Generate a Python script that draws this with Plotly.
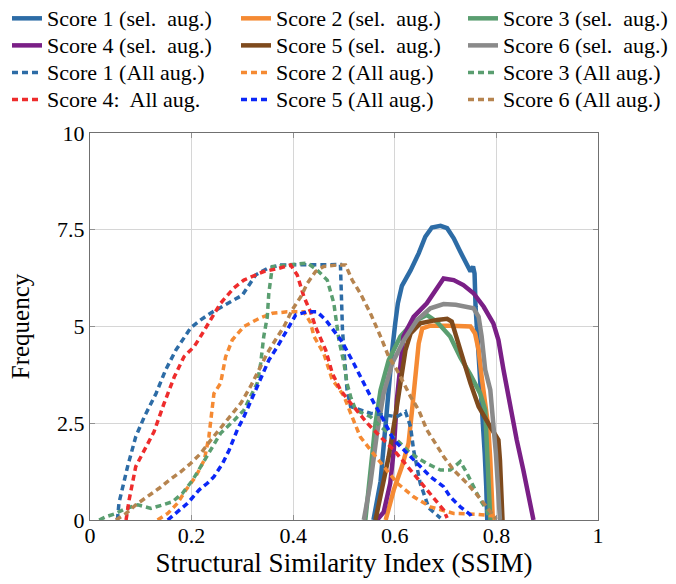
import plotly.graph_objects as go

# ---------------- data ----------------
s1_sel_x = [0.558, 0.566, 0.572, 0.578, 0.583, 0.589, 0.595, 0.601, 0.606, 0.614, 0.631, 0.647, 0.66, 0.673, 0.69, 0.703, 0.716, 0.729, 0.742, 0.749, 0.754, 0.757, 0.759, 0.765, 0.771, 0.777, 0.78, 0.782]
s1_sel_y = [0.0, 0.5, 1.0, 1.9, 2.7, 3.6, 4.4, 5.1, 5.6, 6.05, 6.45, 6.89, 7.32, 7.56, 7.6, 7.54, 7.28, 6.93, 6.59, 6.42, 6.55, 6.37, 5.51, 4.31, 3.02, 1.72, 0.86, 0.0]

s2_sel_x = [0.582, 0.598, 0.614, 0.627, 0.634, 0.64, 0.647, 0.654, 0.67, 0.71, 0.749, 0.758, 0.765, 0.771, 0.778, 0.784, 0.788, 0.791, 0.793]
s2_sel_y = [0.0, 0.78, 1.38, 1.98, 2.84, 3.7, 4.56, 4.95, 5.02, 5.02, 5.0, 4.82, 4.39, 3.7, 3.02, 2.41, 1.55, 0.69, 0.0]

s3_sel_x = [0.542, 0.547, 0.552, 0.562, 0.572, 0.588, 0.611, 0.637, 0.663, 0.683, 0.709, 0.729, 0.749, 0.768, 0.778, 0.781, 0.784, 0.788]
s3_sel_y = [0.0, 0.6, 1.38, 2.5, 3.36, 4.13, 4.74, 5.12, 5.3, 5.12, 4.74, 4.2, 3.75, 3.27, 2.84, 1.98, 0.86, 0.0]

s4_sel_x = [0.565, 0.578, 0.591, 0.598, 0.604, 0.611, 0.617, 0.627, 0.637, 0.663, 0.676, 0.686, 0.696, 0.716, 0.735, 0.755, 0.775, 0.794, 0.804, 0.814, 0.827, 0.84, 0.853, 0.866, 0.873]
s4_sel_y = [0.0, 0.2, 0.95, 1.81, 3.1, 4.13, 4.74, 5.0, 5.25, 5.6, 5.86, 6.03, 6.24, 6.2, 6.07, 5.86, 5.51, 5.08, 4.65, 3.88, 2.93, 2.07, 1.29, 0.43, 0.0]

s5_sel_x = [0.562, 0.574, 0.588, 0.601, 0.611, 0.621, 0.631, 0.65, 0.683, 0.703, 0.712, 0.719, 0.735, 0.749, 0.765, 0.788, 0.804, 0.807, 0.81, 0.812]
s5_sel_y = [0.0, 0.78, 1.64, 2.67, 3.53, 4.39, 4.82, 5.08, 5.17, 5.2, 5.13, 4.85, 4.13, 3.53, 2.93, 2.41, 2.07, 1.55, 0.26, 0.0]

s6_sel_x = [0.539, 0.552, 0.565, 0.578, 0.595, 0.618, 0.644, 0.67, 0.696, 0.72, 0.755, 0.765, 0.771, 0.778, 0.788, 0.794, 0.799, 0.803, 0.807]
s6_sel_y = [0.0, 0.95, 2.24, 3.27, 4.05, 4.65, 5.17, 5.47, 5.58, 5.56, 5.47, 5.25, 4.74, 3.88, 3.36, 2.58, 1.72, 0.86, 0.0]

s1_all_x = [0.054, 0.057, 0.074, 0.090, 0.107, 0.130, 0.149, 0.169, 0.198, 0.218, 0.238, 0.277, 0.30, 0.326, 0.349, 0.375, 0.43, 0.493, 0.497, 0.506, 0.513, 0.552, 0.604, 0.621, 0.631, 0.637, 0.65, 0.667, 0.69]
s1_all_y = [0.0, 0.44, 1.38, 2.15, 2.67, 3.27, 3.88, 4.39, 4.96, 5.17, 5.35, 5.64, 5.81, 6.33, 6.5, 6.59, 6.6, 6.6, 4.9, 3.36, 2.93, 2.76, 2.67, 2.80, 2.41, 1.81, 0.95, 0.31, 0.05]

s2_all_x = [0.133, 0.153, 0.172, 0.189, 0.208, 0.225, 0.234, 0.240, 0.244, 0.257, 0.267, 0.280, 0.303, 0.333, 0.359, 0.388, 0.421, 0.434, 0.441, 0.46, 0.477, 0.487, 0.5, 0.513, 0.532, 0.552, 0.578, 0.605, 0.637, 0.67, 0.716, 0.76, 0.80]
s2_all_y = [0.0, 0.17, 0.43, 0.78, 1.12, 1.55, 2.15, 2.84, 3.27, 3.53, 4.22, 4.65, 5.0, 5.21, 5.34, 5.38, 5.38, 5.1, 4.74, 4.31, 3.62, 3.45, 3.2, 2.76, 2.15, 1.81, 1.38, 0.95, 0.6, 0.34, 0.17, 0.15, 0.1]

s3_all_x = [0.018, 0.031, 0.051, 0.071, 0.094, 0.12, 0.143, 0.162, 0.182, 0.202, 0.218, 0.238, 0.257, 0.284, 0.303, 0.316, 0.329, 0.336, 0.342, 0.349, 0.352, 0.359, 0.40, 0.428, 0.447, 0.467, 0.48, 0.487, 0.49, 0.5, 0.506, 0.513, 0.523, 0.552, 0.572, 0.604, 0.631, 0.663, 0.69, 0.709, 0.729, 0.742, 0.755, 0.768, 0.781, 0.785]
s3_all_y = [0.0, 0.08, 0.17, 0.30, 0.39, 0.3, 0.39, 0.47, 0.69, 1.03, 1.38, 1.81, 2.24, 2.58, 2.84, 3.19, 3.53, 4.05, 4.74, 5.25, 5.86, 6.55, 6.6, 6.64, 6.46, 6.2, 5.6, 5.0, 4.65, 4.05, 3.53, 3.19, 2.84, 2.67, 2.41, 2.07, 1.72, 1.46, 1.29, 1.29, 1.51, 1.21, 0.86, 0.52, 0.26, 0.05]

s4_all_x = [0.071, 0.077, 0.090, 0.107, 0.126, 0.146, 0.166, 0.185, 0.205, 0.218, 0.238, 0.257, 0.283, 0.303, 0.342, 0.371, 0.395, 0.408, 0.421, 0.434, 0.444, 0.464, 0.477, 0.493, 0.513, 0.546, 0.565, 0.598, 0.631, 0.663, 0.696, 0.703]
s4_all_y = [0.0, 0.52, 1.38, 1.81, 2.28, 3.02, 3.70, 4.22, 4.48, 4.75, 5.17, 5.6, 5.99, 6.2, 6.42, 6.5, 6.59, 6.33, 5.77, 5.38, 4.99, 4.39, 3.79, 3.36, 3.02, 2.5, 2.24, 1.81, 1.29, 0.78, 0.26, 0.05]

s5_all_x = [0.153, 0.169, 0.192, 0.215, 0.231, 0.244, 0.261, 0.274, 0.29, 0.303, 0.323, 0.336, 0.352, 0.369, 0.388, 0.405, 0.428, 0.447, 0.464, 0.48, 0.496, 0.519, 0.539, 0.559, 0.578, 0.598, 0.618, 0.637, 0.67, 0.696, 0.709, 0.729, 0.749, 0.752]
s5_all_y = [0.0, 0.17, 0.43, 0.78, 0.95, 1.12, 1.46, 1.81, 2.33, 2.67, 3.27, 3.70, 4.13, 4.48, 4.91, 5.3, 5.38, 5.38, 5.17, 4.89, 4.61, 4.05, 3.53, 3.02, 2.58, 2.07, 1.81, 1.55, 1.12, 0.86, 0.6, 0.34, 0.13, 0.05]

s6_all_x = [0.051, 0.071, 0.090, 0.113, 0.136, 0.156, 0.179, 0.198, 0.218, 0.238, 0.264, 0.28, 0.297, 0.316, 0.333, 0.349, 0.365, 0.382, 0.398, 0.415, 0.428, 0.444, 0.46, 0.487, 0.503, 0.516, 0.532, 0.552, 0.572, 0.588, 0.604, 0.618, 0.631, 0.647, 0.663, 0.68, 0.696, 0.716, 0.742, 0.762, 0.781, 0.795, 0.8]
s6_all_y = [0.0, 0.17, 0.39, 0.60, 0.82, 1.03, 1.25, 1.46, 1.72, 2.07, 2.5, 2.76, 3.02, 3.45, 3.88, 4.31, 4.65, 5.0, 5.43, 5.77, 6.12, 6.42, 6.55, 6.59, 6.59, 6.2, 5.86, 5.34, 4.74, 4.22, 3.88, 3.53, 3.19, 2.84, 2.33, 1.98, 1.64, 1.29, 0.95, 0.65, 0.34, 0.13, 0.02]

names = [
    "Score 1 (sel.\u00a0 aug.)", "Score 2 (sel.\u00a0 aug.)", "Score 3 (sel.\u00a0 aug.)",
    "Score 4 (sel.\u00a0 aug.)", "Score 5 (sel.\u00a0 aug.)", "Score 6 (sel.\u00a0 aug.)",
    "Score 1 (All aug.)", "Score 2 (All aug.)", "Score 3 (All aug.)",
    "Score 4:\u00a0 All aug.", "Score 5 (All aug.)", "Score 6 (All aug.)",
]

x_ticks = [0, 0.2, 0.4, 0.6, 0.8, 1]
x_tick_text = ["0", "0.2", "0.4", "0.6", "0.8", "1"]
y_ticks = [0, 2.5, 5, 7.5, 10]
y_tick_text = ["0", "2.5", "5", "7.5", "10"]

# ---------------- styles ----------------
BLUE = "#2d6ca6"
ORANGE = "#f58a33"
GREEN = "#5a9e70"
PURPLE = "#7a1f86"
BROWN = "#7e4a1d"
GRAY = "#8a8a8a"
RED = "#ee2c2c"
PBLUE = "#0b27f7"
TAN = "#b6844f"

series = [
    (s1_sel_x, s1_sel_y, BLUE, "solid", "legend"),
    (s2_sel_x, s2_sel_y, ORANGE, "solid", "legend2"),
    (s3_sel_x, s3_sel_y, GREEN, "solid", "legend3"),
    (s4_sel_x, s4_sel_y, PURPLE, "solid", "legend"),
    (s5_sel_x, s5_sel_y, BROWN, "solid", "legend2"),
    (s6_sel_x, s6_sel_y, GRAY, "solid", "legend3"),
    (s1_all_x, s1_all_y, BLUE, "dash", "legend"),
    (s2_all_x, s2_all_y, ORANGE, "dash", "legend2"),
    (s3_all_x, s3_all_y, GREEN, "dash", "legend3"),
    (s4_all_x, s4_all_y, RED, "dash", "legend"),
    (s5_all_x, s5_all_y, PBLUE, "dash", "legend2"),
    (s6_all_x, s6_all_y, TAN, "dash", "legend3"),
]

FONT = "Liberation Serif"
LEG_TEXT = 22

fig = go.Figure()
for (xs, ys, col, style, leg), nm in zip(series, names):
    if style == "solid":
        line = dict(color=col, width=4.5)
    else:
        line = dict(color=col, width=3.5, dash="6px,4px")
    fig.add_trace(go.Scatter(
        x=xs, y=ys, mode="lines", line=line,
        name='<span style="font-size:%dpx">%s</span>' % (LEG_TEXT, nm),
        legend=leg,
    ))

W, H = 676, 584
ML, MR, MT, MB = 90, 78, 133, 64
PW, PH = W - ML - MR, H - MT - MB


def px_x(px):
    return (px - ML) / PW


def px_y(py):
    return 1 + (MT - py) / PH


leg_common = dict(
    orientation="v", xref="paper", yref="paper",
    yanchor="top", xanchor="left", y=px_y(-8),
    bgcolor="rgba(0,0,0,0)", borderwidth=0,
    font=dict(family=FONT, size=18.5, color="#000"),
    title=dict(text=" ", font=dict(family=FONT, size=6, color="#000")),
    traceorder="normal", itemwidth=30,
)

fig.update_layout(
    width=W, height=H,
    paper_bgcolor="white", plot_bgcolor="white",
    margin=dict(l=ML, r=MR, t=MT, b=MB, autoexpand=False),
    font=dict(family=FONT, color="#000"),
    showlegend=True,
    legend=dict(leg_common, x=px_x(7)),
    legend2=dict(leg_common, x=px_x(236)),
    legend3=dict(leg_common, x=px_x(463)),
    xaxis=dict(
        range=[0, 1], tickvals=x_ticks, ticktext=x_tick_text,
        showgrid=True, gridcolor="#d6d6d6", gridwidth=1,
        showline=True, linecolor="#707070", linewidth=1.3, mirror="ticks",
        ticks="inside", ticklen=5, tickcolor="#909090",
        tickfont=dict(family=FONT, size=22, color="#000"),
        ticklabelstandoff=-5,
        title=dict(text="Structural Similarity Index (SSIM)",
                   font=dict(family=FONT, size=27, color="#000"), standoff=5),
        zeroline=False,
    ),
    yaxis=dict(
        range=[0, 10], tickvals=y_ticks, ticktext=y_tick_text,
        showgrid=True, gridcolor="#d6d6d6", gridwidth=1,
        showline=True, linecolor="#707070", linewidth=1.3, mirror="ticks",
        ticks="inside", ticklen=5, tickcolor="#909090",
        tickfont=dict(family=FONT, size=22, color="#000"),
        title=dict(text="Frequency",
                   font=dict(family=FONT, size=25, color="#000"), standoff=20),
        zeroline=False,
    ),
)

fig.write_html(
    "out.html",
    config={"displayModeBar": False},
    post_script="document.body.style.margin='0px';document.body.style.overflow='hidden';",
)
